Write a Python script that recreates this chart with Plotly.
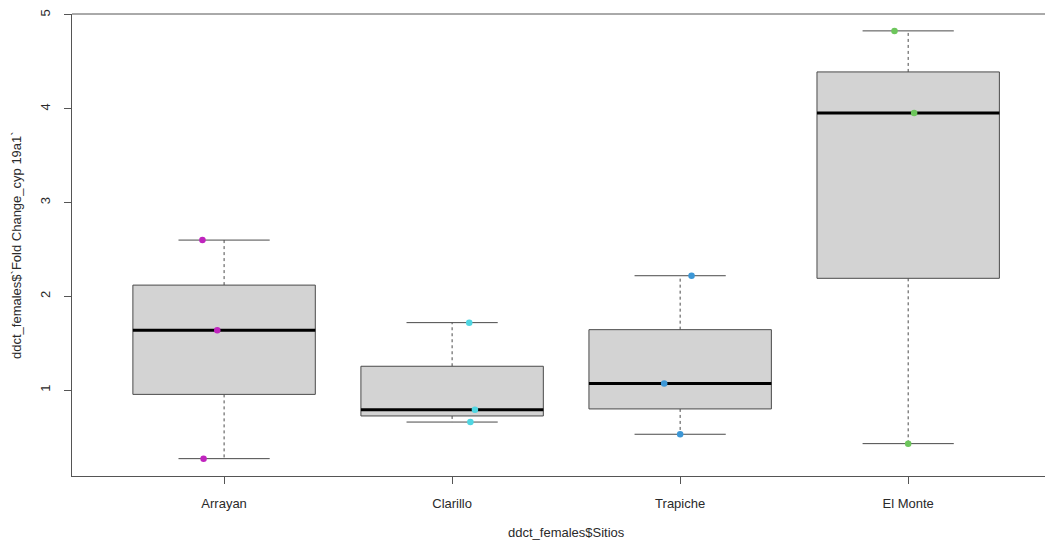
import numpy as np
import plotly.graph_objects as go

# ---- data ----
sitios = ["Arrayan", "Clarillo", "Trapiche", "El Monte"]
arrayan = [2.60, 1.64, 0.27]
clarillo = [1.72, 0.79, 0.66]
trapiche = [2.22, 1.07, 0.53]
el_monte = [4.83, 3.955, 0.43]
# horizontal jitter of the points (category units)
jit_arrayan = [-0.095, -0.03, -0.09]
jit_clarillo = [0.075, 0.10, 0.08]
jit_trapiche = [0.05, -0.07, 0.0]
jit_el_monte = [-0.06, 0.026, 0.0]
point_colors = ["#C024BE", "#4FD6E2", "#3C97D6", "#6DC65C"]
y_ticks = [1, 2, 3, 4, 5]

groups = [arrayan, clarillo, trapiche, el_monte]
jitters = [jit_arrayan, jit_clarillo, jit_trapiche, jit_el_monte]


def fivenum(v):
    x = np.sort(np.asarray(v, dtype=float))
    n = len(x)
    n4 = np.floor((n + 3) / 2) / 2
    d = np.array([1, n4, (n + 1) / 2, n + 1 - n4, n]) - 1
    return 0.5 * (x[np.floor(d).astype(int)] + x[np.ceil(d).astype(int)])


BOX_HALF = 0.4
CAP_HALF = 0.2
edge = "#4a4a4a"

fig = go.Figure()
for i, (vals, jit, col) in enumerate(zip(groups, jitters, point_colors)):
    p = i + 1
    mn, q1, med, q3, mx = fivenum(vals)
    # whiskers (dashed)
    for a, b in [(q3, mx), (q1, mn)]:
        fig.add_trace(go.Scatter(x=[p, p], y=[a, b], mode="lines",
                                 line=dict(color=edge, width=1, dash="3px,3px"),
                                 hoverinfo="skip", showlegend=False))
    # caps
    for c in [mn, mx]:
        fig.add_trace(go.Scatter(x=[p - CAP_HALF, p + CAP_HALF], y=[c, c], mode="lines",
                                 line=dict(color=edge, width=1),
                                 hoverinfo="skip", showlegend=False))
    # box
    fig.add_trace(go.Scatter(x=[p - BOX_HALF, p + BOX_HALF, p + BOX_HALF, p - BOX_HALF, p - BOX_HALF],
                             y=[q1, q1, q3, q3, q1], mode="lines", fill="toself",
                             fillcolor="#D3D3D3", line=dict(color=edge, width=1),
                             hoverinfo="skip", showlegend=False))
    # median
    fig.add_trace(go.Scatter(x=[p - BOX_HALF, p + BOX_HALF], y=[med, med], mode="lines",
                             line=dict(color="black", width=3),
                             hoverinfo="skip", showlegend=False))

for i, (vals, jit, col) in enumerate(zip(groups, jitters, point_colors)):
    p = i + 1
    fig.add_trace(go.Scatter(x=[p + j for j in jit], y=vals, mode="markers",
                             marker=dict(color=col, size=6.5),
                             name=sitios[i], showlegend=False))

font = dict(family="Liberation Sans, Arial, sans-serif", size=13, color="#2a2a2a")

fig.update_layout(
    width=1045, height=541,
    margin=dict(l=72, r=0, t=14, b=65),
    paper_bgcolor="white", plot_bgcolor="white",
    font=font,
    showlegend=False,
    xaxis=dict(range=[0.333, 4.60], tickmode="array", tickvals=[1, 2, 3, 4], ticktext=sitios,
               showgrid=False, zeroline=False, showline=True, linecolor="#555555", linewidth=1,
               ticks="outside", ticklen=7, tickcolor="#555555", ticklabelstandoff=8,
               tickfont=font),
    yaxis=dict(range=[0.085, 5.01], tickmode="array", tickvals=y_ticks,
               ticktext=[str(t) for t in y_ticks], tickangle=-90,
               showgrid=False, zeroline=False, showline=True, linecolor="#555555", linewidth=1,
               ticks="outside", ticklen=7, tickcolor="#555555", ticklabelstandoff=9,
               tickfont=font),
    shapes=[dict(type="line", xref="paper", yref="paper", x0=0, x1=1, y0=1, y1=1,
                 line=dict(color="#555555", width=1))],
    annotations=[
        dict(text="ddct_females$Sitios", xref="paper", yref="paper",
             x=(566 - 72) / 973, y=-(532 - 476) / 462, xanchor="center", yanchor="middle",
             showarrow=False, font=font),
        dict(text="ddct_females$`Fold Change_cyp 19a1`", xref="paper", yref="paper",
             x=-(72 - 16) / 973, y=(476 - 245) / 462, xanchor="center", yanchor="middle",
             textangle=-90, showarrow=False, font=font),
    ],
)

fig.write_html("out.html", config={"displayModeBar": False},
               post_script="document.body.style.margin='0';")
